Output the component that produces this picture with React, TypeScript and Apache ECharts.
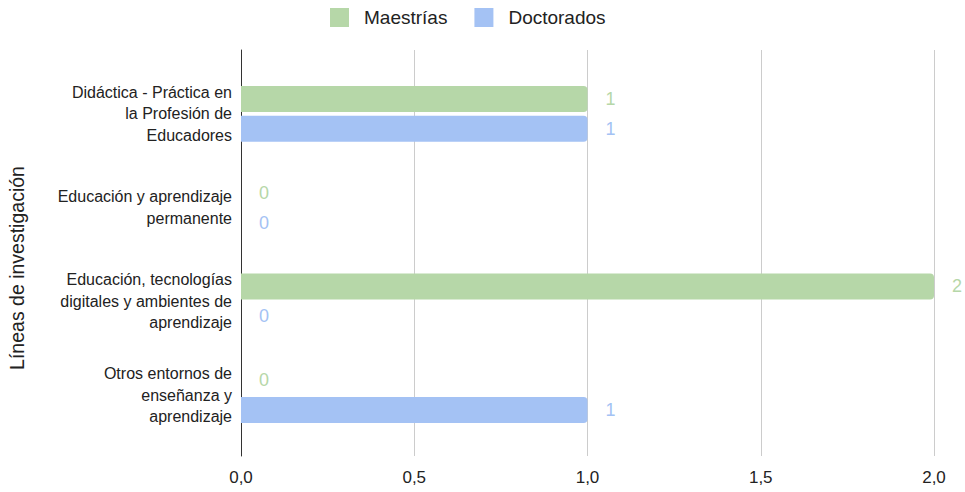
import React, { useEffect, useRef } from "react";
import * as echarts from "echarts";

const categories = [
  "Didáctica - Práctica en\nla Profesión de\nEducadores",
  "Educación y aprendizaje\npermanente",
  "Educación, tecnologías\ndigitales y ambientes de\naprendizaje",
  "Otros entornos de\nenseñanza y\naprendizaje",
];
const maestrias = [1, 0, 2, 0];
const doctorados = [1, 0, 0, 1];
const seriesNames = ["Maestrías", "Doctorados"];
const colors = ["#b6d7a8", "#a4c2f4"];
const axisTitle = "Líneas de investigación";

const FONT = "Liberation Sans";

export default function App() {
  const ref = useRef<HTMLDivElement>(null);
  useEffect(() => {
    if (!ref.current) return;
    const chart = echarts.init(ref.current, null, { renderer: "svg" });
    const fmt = (v: number) => v.toFixed(1).replace(".", ",");
    const mkSeries = (name: string, data: number[], color: string) => ({
      name,
      type: "bar",
      xAxisIndex: 1,
      yAxisIndex: 1,
      data,
      barWidth: 26,
      barGap: "15%",
      itemStyle: { color, borderRadius: [0, 4, 4, 0] },
      label: {
        show: true,
        position: "right",
        distance: 18,
        color,
        fontSize: 18,
        fontFamily: FONT,
      },
    });
    chart.setOption({
      animation: false,
      backgroundColor: "#ffffff",
      legend: {
        top: 8,
        left: 330,
        padding: 0,
        itemWidth: 19,
        itemHeight: 19,
        itemGap: 27,
        icon: "rect",
        itemStyle: { borderRadius: 2 },
        textStyle: { fontSize: 19, color: "#222", fontFamily: FONT, padding: [0, 0, 0, 10] },
        data: seriesNames,
      },
      graphic: [
        {
          type: "text",
          x: 17,
          y: 268,
          rotation: Math.PI / 2,
          style: {
            text: axisTitle,
            fontSize: 19.5,
            fill: "#222",
            fontFamily: FONT,
            align: "center",
            verticalAlign: "middle",
          },
        },
      ],
      grid: [
        { left: 241, right: 31, top: 50, bottom: 36, outerBoundsMode: "none" },
        { left: 241, right: 31, top: 67, bottom: 50, outerBoundsMode: "none" },
      ],
      xAxis: [
        {
          gridIndex: 0,
          type: "value",
          min: 0,
          max: 2,
          interval: 0.5,
          axisLine: { show: false },
          axisTick: { show: false },
          splitLine: { show: true, lineStyle: { color: "#cccccc", width: 1 } },
          axisLabel: { formatter: fmt, fontSize: 17, color: "#222", fontFamily: FONT, margin: 13 },
        },
        {
          gridIndex: 1,
          type: "value",
          min: 0,
          max: 2,
          interval: 0.5,
          show: false,
        },
      ],
      yAxis: [
        {
          gridIndex: 0,
          type: "value",
          min: 0,
          max: 1,
          axisLine: { show: true, lineStyle: { color: "#333", width: 1 } },
          axisTick: { show: false },
          axisLabel: { show: false },
          splitLine: { show: false },
        },
        {
          gridIndex: 1,
          type: "category",
          inverse: true,
          data: categories,
          axisLine: { show: false },
          axisTick: { show: false },
          splitLine: { show: false },
          axisLabel: {
            fontSize: 16,
            color: "#222",
            fontFamily: FONT,
            lineHeight: 21.5,
            align: "right",
            margin: 9,
          },
        },
      ],
      series: [
        mkSeries(seriesNames[0], maestrias, colors[0]),
        mkSeries(seriesNames[1], doctorados, colors[1]),
      ],
    });
    return () => chart.dispose();
  }, []);
  return <div ref={ref} style={{ width: 965, height: 492, position: "absolute", left: 0, top: 0 }} />;
}
